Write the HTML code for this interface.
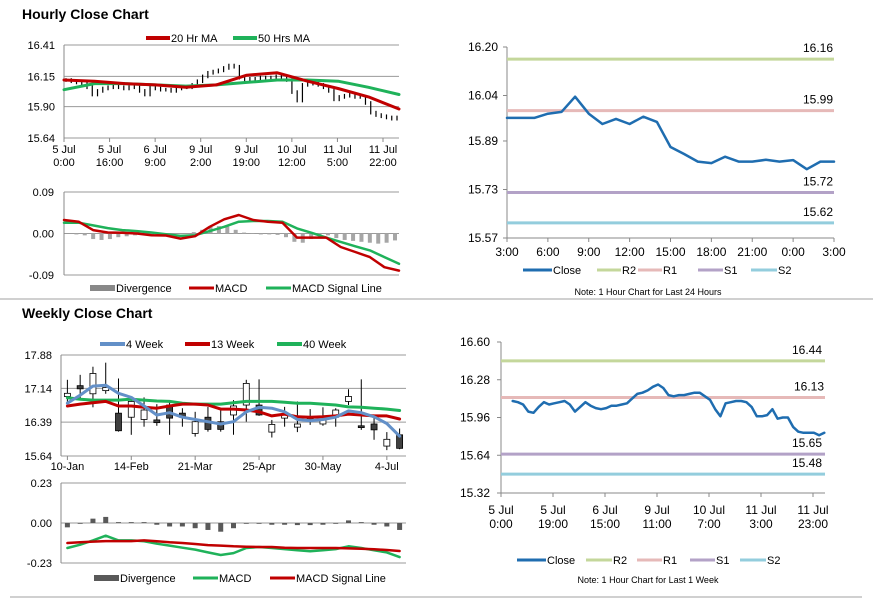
<!DOCTYPE html>
<html><head><meta charset="utf-8"><style>
html,body{margin:0;padding:0;background:#fff;}
svg{display:block;font-family:"Liberation Sans",Arial,sans-serif;}
</style></head><body>
<svg id="c" width="873" height="601" viewBox="0 0 873 601" xmlns="http://www.w3.org/2000/svg">
<line x1="0" y1="299" x2="873" y2="299" stroke="#a0a0a0"/>
<line x1="10" y1="597" x2="862" y2="597" stroke="#a0a0a0"/>
<text x="22" y="19" font-size="14" font-weight="bold">Hourly Close Chart</text>
<text x="22" y="318" font-size="14" font-weight="bold">Weekly Close Chart</text>
</svg>
<script>
// ---------- Panel A: hourly close ----------
const hCloses=[16.12,16.11,16.10,16.09,16.06,16.00,16.03,16.05,16.06,16.07,16.06,16.05,16.06,16.07,16.03,16.00,16.06,16.05,16.04,16.04,16.03,16.05,16.06,16.06,16.08,16.11,16.15,16.18,16.19,16.20,16.22,16.24,16.23,16.14,16.12,16.13,16.13,16.14,16.14,16.14,16.15,16.14,16.12,16.02,15.95,16.08,16.10,16.09,16.08,16.06,16.03,15.96,15.98,15.99,16.00,15.98,15.98,15.93,15.85,15.83,15.82,15.81,15.80,15.81];
const hMA20=[16.12,16.11,16.09,16.08,16.06,16.08,16.16,16.18,16.11,16.05,15.98,15.88];
const hMA50=[16.04,16.09,16.09,16.08,16.07,16.08,16.10,16.12,16.12,16.11,16.06,16.00];
const hYTicks=["16.41","16.15","15.90","15.64"];
const hXTicks=[["5 Jul","0:00"],["5 Jul","16:00"],["6 Jul","9:00"],["9 Jul","2:00"],["9 Jul","19:00"],["10 Jul","12:00"],["11 Jul","5:00"],["11 Jul","22:00"]];
// ---------- Panel B: hourly MACD ----------
const hMACD=[0.0292,0.0256,0.0073,0.0022,0.0015,0,-0.0037,-0.0044,-0.011,-0.0059,0.0146,0.0307,0.0402,0.0292,0.0256,0.0234,-0.0088,-0.0088,-0.0088,-0.0293,-0.0402,-0.0512,-0.0731,-0.0805];
const hSignal=[0.0234,0.0234,0.0176,0.0117,0.0073,0.0051,0.0022,-0.0015,-0.0051,-0.0037,0.0051,0.0146,0.0256,0.0271,0.0271,0.0256,0.0110,0.0015,-0.0088,-0.0183,-0.0278,-0.0366,-0.0512,-0.0658];
const hDiv=[0,-0.002,-0.004,-0.012,-0.014,-0.012,-0.008,-0.006,-0.004,-0.003,-0.004,-0.004,-0.002,0,0,0.003,0.008,0.014,0.016,0.015,0.008,0.002,-0.001,-0.002,-0.002,-0.003,-0.008,-0.018,-0.020,-0.012,-0.006,-0.004,-0.010,-0.014,-0.016,-0.018,-0.020,-0.022,-0.020,-0.015];
const hMacdTicks=["0.09","0.00","-0.09"];
// ---------- Panel C: weekly candles ----------
const wOpen=[16.96,17.20,17.02,17.09,16.59,16.50,16.45,16.44,16.77,16.59,16.14,16.50,16.40,16.55,16.77,16.77,16.17,16.48,16.28,16.50,16.35,16.50,16.85,16.31,16.35,15.86,16.11];
const wClose=[17.03,17.13,17.47,17.16,16.20,16.85,16.66,16.38,16.48,16.50,16.40,16.23,16.23,16.75,17.25,16.55,16.34,16.56,16.35,16.44,16.44,16.66,16.96,16.27,16.22,16.01,15.81];
const wHigh=[17.33,17.44,17.62,17.71,17.36,16.88,16.94,16.79,16.88,16.70,16.62,16.73,16.66,16.88,17.33,17.34,16.44,16.73,16.85,16.68,16.72,16.70,17.12,17.34,16.50,16.17,16.25];
const wLow=[16.81,16.88,16.72,17.02,16.18,16.11,16.29,16.31,16.11,16.29,16.07,16.18,16.18,16.11,16.40,16.53,16.05,16.29,16.17,16.33,16.31,16.29,16.77,16.22,16.00,15.77,15.79];
const w4=[16.81,16.99,17.19,17.21,17.03,16.94,16.75,16.55,16.60,16.50,16.45,16.40,16.35,16.40,16.62,16.72,16.70,16.62,16.45,16.42,16.45,16.50,16.64,16.60,16.51,16.36,16.08];
const w13=[16.75,16.79,16.82,16.85,16.75,16.75,16.72,16.70,16.75,16.79,16.79,16.77,16.68,16.68,16.66,16.62,16.53,16.57,16.51,16.50,16.51,16.53,16.57,16.55,16.53,16.53,16.46];
const w40=[16.93,16.90,16.88,16.88,16.88,16.90,16.88,16.86,16.85,16.81,16.79,16.79,16.79,16.82,16.85,16.85,16.85,16.83,16.81,16.81,16.79,16.77,16.73,16.72,16.70,16.68,16.65];
const wYTicks=["17.88","17.14","16.39","15.64"];
const wXTicks=["10-Jan","14-Feb","21-Mar","25-Apr","30-May","4-Jul"];
// ---------- Panel D: weekly MACD ----------
const wDiv=[-0.025,0,0.025,0.035,0.005,0.005,0.005,-0.010,-0.020,-0.020,-0.030,-0.040,-0.050,-0.030,0,0,-0.010,-0.010,-0.012,-0.012,-0.010,0,0.015,0.005,-0.010,-0.020,-0.040];
const wMACD=[-0.144,-0.125,-0.100,-0.073,-0.100,-0.100,-0.105,-0.119,-0.130,-0.142,-0.153,-0.169,-0.184,-0.173,-0.144,-0.138,-0.144,-0.150,-0.157,-0.163,-0.157,-0.150,-0.134,-0.144,-0.157,-0.169,-0.196];
const wSignal=[-0.115,-0.111,-0.107,-0.104,-0.104,-0.104,-0.100,-0.105,-0.111,-0.115,-0.121,-0.127,-0.130,-0.134,-0.136,-0.138,-0.138,-0.142,-0.144,-0.144,-0.144,-0.144,-0.146,-0.148,-0.151,-0.155,-0.161];
const wMacdTicks=["0.23","0.00","-0.23"];
// ---------- Panel E: last 24 hours ----------
const dClose=[15.966,15.966,15.966,15.98,15.986,16.036,15.98,15.946,15.963,15.946,15.97,15.953,15.87,15.847,15.822,15.817,15.838,15.822,15.822,15.828,15.822,15.827,15.797,15.822,15.822];
const dLevels=[16.16,15.99,15.72,15.62];
const dLevelNames=["R2","R1","S1","S2"];
const dYTicks=["16.20","16.04","15.89","15.73","15.57"];
const dXTicks=["3:00","6:00","9:00","12:00","15:00","18:00","21:00","0:00","3:00"];
// ---------- Panel F: last week ----------
const kClose=[16.10,16.09,16.07,16.01,16.00,16.05,16.09,16.07,16.08,16.09,16.10,16.07,16.01,16.05,16.09,16.06,16.04,16.03,16.04,16.06,16.06,16.07,16.08,16.12,16.16,16.17,16.19,16.22,16.24,16.21,16.15,16.14,16.15,16.15,16.16,16.17,16.17,16.14,16.11,16.03,15.97,16.08,16.09,16.10,16.10,16.09,16.05,15.97,15.97,15.98,16.03,15.95,15.96,15.96,15.88,15.84,15.83,15.83,15.83,15.81,15.83];
const kLevels=[16.44,16.13,15.65,15.48];
const kYTicks=["16.60","16.28","15.96","15.64","15.32"];
const kXTicks=[["5 Jul","0:00"],["5 Jul","19:00"],["6 Jul","15:00"],["9 Jul","11:00"],["10 Jul","7:00"],["11 Jul","3:00"],["11 Jul","23:00"]];

const svg=document.getElementById('c');
const NS='http://www.w3.org/2000/svg';
function mk(tag,attrs,parent){const e=document.createElementNS(NS,tag);for(const k in attrs)e.setAttribute(k,attrs[k]);(parent||svg).appendChild(e);return e;}
function lin(d0,d1,r0,r1){return v=>r0+(v-d0)*(r1-r0)/(d1-d0);}
function txt(x,y,s,anchor,size,g){const t=mk('text',{x:x,y:y,'font-size':size||11,'text-anchor':anchor||'start',fill:'#000'},g);t.textContent=s;return t;}
function poly(vals,xf,yf,color,w,g){const p=vals.map((v,i)=>xf(i).toFixed(1)+','+yf(v).toFixed(1)).join(' ');return mk('polyline',{points:p,fill:'none',stroke:color,'stroke-width':w,'stroke-linejoin':'round','stroke-linecap':'round'},g);}
function legendItem(g,x,y,w,color,h,label){mk('rect',{x:x,y:y-h/2,width:w,height:h,fill:color},g);txt(x+w+1,y+4,label,'start',11,g);}
const RED='#c00000',GREEN='#1fb25a',BLUE='#6390c8',CBLUE='#1f6db0';

// ===== Panel A =====
{
const g=mk('g',{});


const x0=64,x1=399,yT=45,yB=138;
const yv=lin(16.41,15.64,yT,yB);
hYTicks.forEach((t,i)=>{const y=yv(parseFloat(t));mk('line',{x1:x0,x2:x1,y1:y,y2:y,stroke:'#9a9a9a'},g);const l=txt(55,y+4,t,'end',11,g);});
mk('line',{x1:x0,x2:x0,y1:yT,y2:yB+4,stroke:'#888'},g);
hXTicks.forEach((t,i)=>{const x=x0+i*(383-x0)/7;mk('line',{x1:x,x2:x,y1:yB,y2:yB+4,stroke:'#888'},g);const a=txt(x,yB+15,t[0],'middle',11,g);txt(x,yB+28,t[1],'middle',11,g);});
const xc=i=>x0+2+i*(x1-x0-4)/(hCloses.length-1);
hCloses.forEach((v,i)=>{const p=i?hCloses[i-1]:v;const lo=Math.min(p,v)-0.015,hi=Math.max(p,v)+0.015;const b=mk('line',{x1:xc(i),x2:xc(i),y1:yv(hi),y2:yv(lo),stroke:'#000','stroke-width':1.2},g);});
const xm=i=>x0+i*(x1-x0)/(hMA20.length-1);
const m1=poly(hMA50,xm,yv,GREEN,3,g);
const m2=poly(hMA20,xm,yv,RED,3,g);
legendItem(g,146,38,24,RED,4,'20 Hr MA');
legendItem(g,233,38,24,GREEN,4,'50 Hrs MA');
}
// ===== Panel B =====
{
const g=mk('g',{});


const x0=64,x1=399;const yv=lin(0.09,-0.09,192,275);
hMacdTicks.forEach(t=>{const y=yv(parseFloat(t));mk('line',{x1:x0,x2:x1,y1:y,y2:y,stroke:'#9a9a9a'},g);txt(54,y+4,t,'end',11,g);});
mk('line',{x1:x0,x2:x0,y1:192,y2:275,stroke:'#888'},g);
const xd=i=>x0+4+i*(x1-x0-8)/(hDiv.length-1);
hDiv.forEach((v,i)=>{const b=mk('rect',{x:xd(i)-2,y:Math.min(yv(0),yv(v)),width:4,height:Math.abs(yv(v)-yv(0)),fill:'#a6a6a6'},g);});
const xm=i=>x0+i*(x1-x0)/(hMACD.length-1);
const s=poly(hSignal,xm,yv,GREEN,2.5,g);
const m=poly(hMACD,xm,yv,RED,2.5,g);
legendItem(g,90,288,25,'#888',6,'Divergence');
legendItem(g,189,288,25,RED,3,'MACD');
legendItem(g,266,288,25,GREEN,3,'MACD Signal Line');
}
// ===== Panel C =====
{
const g=mk('g',{});


const x0=61,x1=406;const yv=lin(17.88,15.64,355,456);const step=(x1-x0)/wOpen.length;const xc=i=>x0+step*(i+0.5);
wYTicks.forEach(t=>{const y=yv(parseFloat(t));mk('line',{x1:x0,x2:x1,y1:y,y2:y,stroke:'#9a9a9a'},g);txt(52,y+4,t,'end',11,g);});
mk('line',{x1:x0,x2:x0,y1:355,y2:456,stroke:'#888'},g);
wXTicks.forEach((t,i)=>{const x=xc(i*5);mk('line',{x1:x,x2:x,y1:456,y2:460,stroke:'#888'},g);txt(x,470,t,'middle',11,g);});
wOpen.forEach((o,i)=>{const c=wClose[i];const x=xc(i);mk('line',{x1:x,x2:x,y1:yv(wHigh[i]),y2:yv(wLow[i]),stroke:'#000'},g);const r=mk('rect',{x:x-3,y:yv(Math.max(o,c)),width:6,height:Math.max(1.5,Math.abs(yv(o)-yv(c))),fill:c>=o?'#fff':'#404040',stroke:'#000','stroke-width':0.8},g);});
const l40=poly(w40,xc,yv,GREEN,3,g);
const l13=poly(w13,xc,yv,RED,3,g);
const l4=poly(w4,xc,yv,BLUE,3,g);
legendItem(g,100,344,25,BLUE,4,'4 Week');
legendItem(g,185,344,25,RED,4,'13 Week');
legendItem(g,277,344,25,GREEN,4,'40 Week');
}
// ===== Panel D =====
{
const g=mk('g',{});


const x0=61,x1=406;const yv=lin(0.23,-0.23,483,563);const step=(x1-x0)/wDiv.length;const xc=i=>x0+step*(i+0.5);
wMacdTicks.forEach(t=>{const y=yv(parseFloat(t));mk('line',{x1:x0,x2:x1,y1:y,y2:y,stroke:'#9a9a9a'},g);txt(52,y+4,t,'end',11,g);});
mk('line',{x1:x0,x2:x0,y1:483,y2:563,stroke:'#888'},g);
wDiv.forEach((v,i)=>{const b=mk('rect',{x:xc(i)-2.5,y:Math.min(yv(0),yv(v)),width:5,height:Math.max(0.8,Math.abs(yv(v)-yv(0))),fill:'#595959'},g);});
const m=poly(wMACD,xc,yv,GREEN,2.5,g);
const s=poly(wSignal,xc,yv,RED,2.5,g);
legendItem(g,94,578,25,'#595959',6,'Divergence');
legendItem(g,193,578,25,GREEN,3,'MACD');
legendItem(g,270,578,25,RED,3,'MACD Signal Line');
}
const LVC=['#c4d79b','#e6b9b8','#b3a2c7','#93cddd'];
// ===== Panel E =====
{
const g=mk('g',{});


const x0=507,x1=834;const yv=lin(16.20,15.57,47,238);
mk('line',{x1:x0,x2:x0,y1:47,y2:238,stroke:'#888'},g);mk('line',{x1:x0,x2:x1,y1:238,y2:238,stroke:'#888'},g);
dYTicks.forEach(t=>{const y=yv(parseFloat(t));mk('line',{x1:x0-4,x2:x0,y1:y,y2:y,stroke:'#888'},g);txt(498,y+4,t,'end',12,g);});
dXTicks.forEach((t,i)=>{const x=x0+i*(x1-x0)/8;mk('line',{x1:x,x2:x,y1:238,y2:242,stroke:'#888'},g);txt(x,256,t,'middle',12,g);});
dLevels.forEach((v,i)=>{const l=mk('line',{x1:x0,x2:x1,y1:yv(v),y2:yv(v),stroke:LVC[i],'stroke-width':3},g);txt(833,yv(v)-7,v.toFixed(2),'end',12,g);});
const xc=i=>x0+i*(x1-x0)/(dClose.length-1);
const c=poly(dClose,xc,yv,CBLUE,2.5,g);
legendItem(g,523,270,29,CBLUE,3,'Close');
legendItem(g,597,270,24,LVC[0],3,'R2');
legendItem(g,638,270,24,LVC[1],3,'R1');
legendItem(g,698,270,25,LVC[2],3,'S1');
legendItem(g,751,270,26,LVC[3],3,'S2');
const n=txt(648,295,'Note: 1 Hour Chart for Last 24 Hours','middle',9,g);
}
// ===== Panel F =====
{
const g=mk('g',{});


const x0=501,x1=825;const yv=lin(16.60,15.32,342,493);
mk('line',{x1:x0,x2:x0,y1:342,y2:493,stroke:'#888'},g);mk('line',{x1:x0,x2:x1,y1:493,y2:493,stroke:'#888'},g);
kYTicks.forEach(t=>{const y=yv(parseFloat(t));mk('line',{x1:x0-4,x2:x0,y1:y,y2:y,stroke:'#888'},g);txt(490,y+4,t,'end',12,g);});
kXTicks.forEach((t,i)=>{const x=x0+i*52;mk('line',{x1:x,x2:x,y1:493,y2:497,stroke:'#888'},g);txt(x,514,t[0],'middle',12,g);txt(x,528,t[1],'middle',12,g);});
kLevels.forEach((v,i)=>{const l=mk('line',{x1:x0,x2:x1,y1:yv(v),y2:yv(v),stroke:LVC[i],'stroke-width':3},g);txt(i==1?824:822,yv(v)-7,v.toFixed(2),'end',12,g);});
const xc=i=>512.7+i*311.6/(kClose.length-1);
const c=poly(kClose,xc,yv,CBLUE,2.5,g);
legendItem(g,517,560,29,CBLUE,3,'Close');
legendItem(g,586,560,26,LVC[0],3,'R2');
legendItem(g,637,560,25,LVC[1],3,'R1');
legendItem(g,690,560,25,LVC[2],3,'S1');
legendItem(g,740,560,26,LVC[3],3,'S2');
const n=txt(648,583,'Note: 1 Hour Chart for Last 1 Week','middle',9,g);
}
</script>
</body></html>
